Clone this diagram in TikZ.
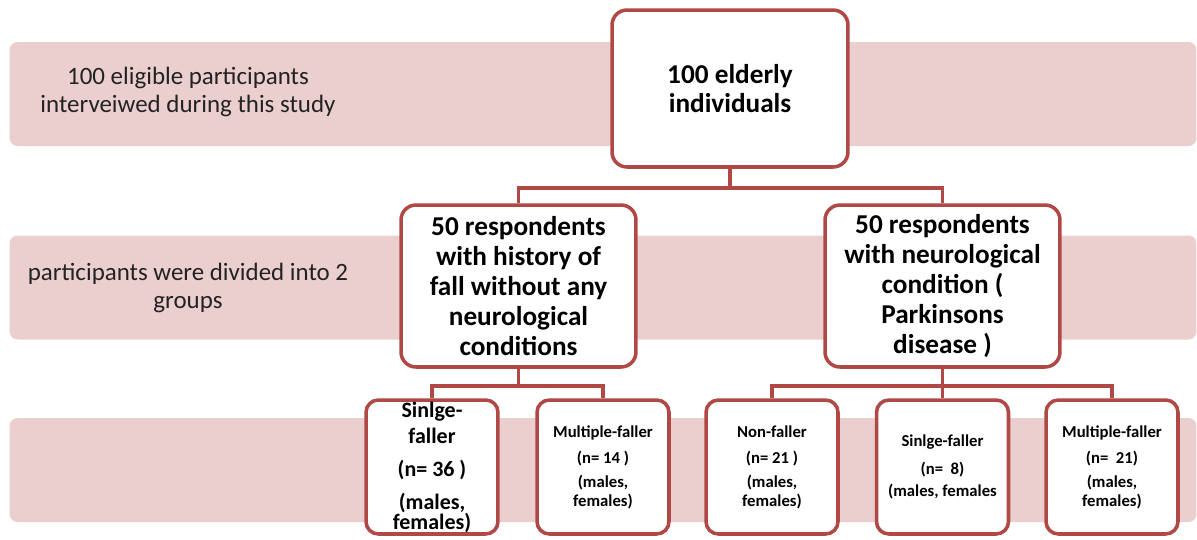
\documentclass[tikz,border=0pt]{standalone}
\usepackage{fontspec}
\setmainfont{Carlito}
\usepackage{xcolor}
\usetikzlibrary{positioning}
\definecolor{bandpink}{RGB}{235,207,207}
\definecolor{boxred}{RGB}{176,72,70}
\definecolor{inkgray}{RGB}{34,34,34}

\begin{document}
\begin{tikzpicture}[
  x=0.02cm, y=-0.02cm,
  band/.style={fill=bandpink, rounded corners=4.5pt, minimum width=23.74cm, minimum height=2.08cm, inner sep=0pt},
  note/.style={align=center, text=inkgray, font=\fontsize{14.2}{15.9}\selectfont},
  big/.style={draw=boxred, fill=white, line width=2pt, rounded corners=8.5pt, align=center, font=\bfseries\fontsize{15.5}{17}\selectfont, inner sep=0pt},
  small/.style={draw=boxred, fill=white, line width=2pt, rounded corners=7pt, align=center, minimum width=2.64cm, minimum height=2.68cm, inner sep=0pt, font=\bfseries\fontsize{9.5}{10.8}\selectfont},
  link/.style={draw=boxred, line width=2pt}
]
  \useasboundingbox (0,0) rectangle (1197,539);

  \node[band] (row1) at (603,94) {};
  \node[band] (row2) at (603,287.5) {};
  \node[band] (row3) at (603,470) {};

  \node[note] (txt1) at (188,92) {100 eligible participants\\interveiwed during this study};
  \node[note] (txt2) at (188,288) {participants were divided into 2\\groups};

  \node[big, minimum width=4.72cm, minimum height=3.14cm] (elderly) at (730,88.5) {100 elderly\\individuals};

  \node[big, minimum width=4.7cm, minimum height=3.24cm] (grpA) at (518.5,286) {50 respondents\\with history of\\fall without any\\neurological\\conditions};
  \node[big, minimum width=4.7cm, minimum height=3.24cm] (grpB) at (942.5,286) {50 respondents\\with neurological\\condition (\\Parkinsons\\disease )};

  \node[small, font=\bfseries\fontsize{12.5}{14.8}\selectfont] (a1) at (432,467) {Sinlge-\\faller\\[4pt](n= 36 )\\[4pt](males,\\[-3.4pt]females)};
  \node[small] (a2) at (603,467) {Multiple-faller\\[4pt](n= 14 )\\[2.8pt](males,\\females)};
  \node[small] (b1) at (772,467) {Non-faller\\[4pt](n= 21 )\\[2.8pt](males,\\females)};
  \node[small] (b2) at (942.5,467) {Sinlge-faller\\[5pt](n=~ 8)\\[1.7pt](males, females};
  \node[small] (b3) at (1112,467) {Multiple-faller\\[4pt](n=~ 21)\\[2.8pt](males,\\females)};

  \draw[link] (elderly.south) -- ++(0,19) -| (grpA.north);
  \draw[link] (elderly.south) -- ++(0,19) -| (grpB.north);
  \draw[link] (grpA.south) -- ++(0,17) -| (a1.north);
  \draw[link] (grpA.south) -- ++(0,17) -| (a2.north);
  \draw[link] (grpB.south) -- ++(0,17) -| (b1.north);
  \draw[link] (grpB.south) -- ++(0,17) -| (b2.north);
  \draw[link] (grpB.south) -- ++(0,17) -| (b3.north);

\end{tikzpicture}
\end{document}
